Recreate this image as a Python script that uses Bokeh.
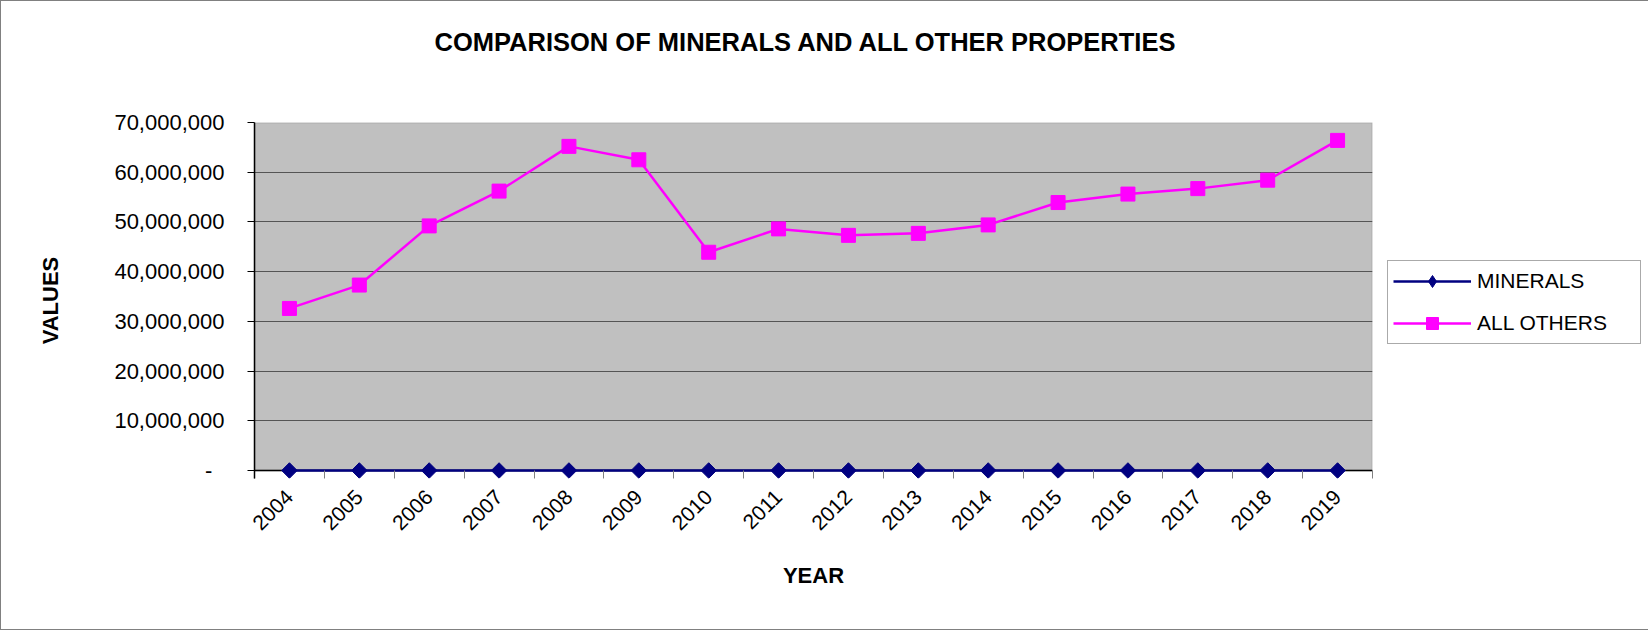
from math import pi
from bokeh.plotting import figure
from bokeh.models import FixedTicker, Range1d, BoxAnnotation, Span, Legend, LegendItem, Title
from bokeh.embed import file_html
from bokeh.resources import INLINE

# ---- data ----
years = list(range(2004, 2020))
year_labels = [str(y) for y in years]
minerals = [0, 0, 0, 0, 0, 0, 0, 0, 0, 0, 0, 0, 0, 0, 0, 0]
all_others = [32.6e6, 37.3e6, 49.2e6, 56.2e6, 65.2e6, 62.5e6, 43.9e6, 48.6e6,
              47.3e6, 47.7e6, 49.4e6, 53.9e6, 55.6e6, 56.7e6, 58.4e6, 66.4e6]
y_ticks = [0, 10000000, 20000000, 30000000, 40000000, 50000000, 60000000, 70000000]
y_tick_labels = ["-\u00a0\u00a0", "10,000,000", "20,000,000", "30,000,000", "40,000,000",
                 "50,000,000", "60,000,000", "70,000,000"]

FONT = "Liberation Sans"
y_top = 70e6
y_start = -y_top * 8 / 348

p = figure(frame_width=1118, frame_height=356,
           min_border_left=253, min_border_right=273,
           min_border_top=121, min_border_bottom=151,
           x_range=Range1d(2003.5, 2019.5), y_range=Range1d(y_start, y_top),
           output_backend="svg", toolbar_location=None,
           background_fill_color="white", border_fill_color="white",
           outline_line_color=None)
p.styles = {"border": "1px solid #808080"}

# title (a blank spacer title sits between the frame and the main title)
p.title.text = ""
p.add_layout(Title(text=" ", text_font=FONT, text_font_size="10px", standoff=49), "above")
p.add_layout(Title(text="COMPARISON OF MINERALS AND ALL OTHER PROPERTIES",
                   text_font=FONT, text_font_size="25.5px", text_font_style="bold",
                   text_color="black", align="left", offset=180, standoff=10), "above")

# plot area background
p.add_layout(BoxAnnotation(bottom=0, top=y_top, fill_color="#C0C0C0", fill_alpha=1,
                           line_color="#808080", line_width=2, level="image"))

# grid
p.xgrid.visible = False
p.ygrid.ticker = FixedTicker(ticks=y_ticks)
p.ygrid.grid_line_color = "#555555"
p.ygrid.grid_line_width = 1
p.add_layout(Span(location=0, dimension="width", line_color="black", line_width=1.5,
                  level="underlay"))

# y axis
ya = p.yaxis[0]
ya.ticker = FixedTicker(ticks=y_ticks)
ya.major_label_overrides = dict(zip(y_ticks, y_tick_labels))
ya.axis_line_color = "black"
ya.axis_line_width = 1.5
ya.major_tick_in = 0
ya.major_tick_out = 7
ya.major_tick_line_color = "black"
ya.minor_tick_line_color = None
ya.major_label_text_font = FONT
ya.major_label_text_font_size = "22px"
ya.major_label_text_color = "black"
ya.major_label_standoff = 23
ya.axis_label = "VALUES"
ya.axis_label_text_font = FONT
ya.axis_label_text_font_size = "22px"
ya.axis_label_text_font_style = "bold"
ya.axis_label_text_color = "black"
ya.axis_label_standoff = 48

# x axis
xa = p.xaxis[0]
xa.ticker = FixedTicker(ticks=years, minor_ticks=[y - 0.5 for y in years] + [years[-1] + 0.5])
xa.major_label_overrides = dict(zip(years, year_labels))
xa.major_label_orientation = pi / 4
xa.axis_line_color = None
xa.major_tick_line_color = None
xa.major_tick_in = 0
xa.major_tick_out = 0
xa.minor_tick_line_color = "#808080"
xa.minor_tick_in = 8
xa.minor_tick_out = 0
xa.major_label_text_font = FONT
xa.major_label_text_font_size = "21px"
xa.major_label_text_color = "black"
xa.major_label_standoff = 15
xa.axis_label = "YEAR"
xa.axis_label_text_font = FONT
xa.axis_label_text_font_size = "22px"
xa.axis_label_text_font_style = "bold"
xa.axis_label_text_color = "black"
xa.axis_label_standoff = 24

# series
m_line = p.line(years, minerals, line_color="#000080", line_width=2.5)
m_pts = p.scatter(years, minerals, marker="square", angle=pi / 4, size=11,
                  fill_color="#000080", line_color="#000080")
# same points as a diamond marker, used only for the legend swatch
m_key = p.scatter(years, minerals, marker="diamond", size=13,
                  fill_color="#000080", line_color="#000080", visible=False)
a_line = p.line(years, all_others, line_color="#FF00FF", line_width=2.5)
a_pts = p.scatter(years, all_others, marker="square", size=14,
                  fill_color="#FF00FF", line_color="#FF00FF")

legend = Legend(items=[LegendItem(label="MINERALS", renderers=[m_line, m_key]),
                       LegendItem(label="ALL OTHERS", renderers=[a_line, a_pts])],
                location=(15, 134), orientation="vertical",
                label_text_font=FONT, label_text_font_size="21px",
                label_text_color="black",
                glyph_width=78, glyph_height=30, label_height=30, label_width=158,
                label_standoff=6, spacing=12, padding=5, margin=0,
                border_line_color="#555555", border_line_width=1,
                background_fill_color="white", background_fill_alpha=1)
p.add_layout(legend, "right")

open("out.html", "w").write(file_html(p, INLINE))
